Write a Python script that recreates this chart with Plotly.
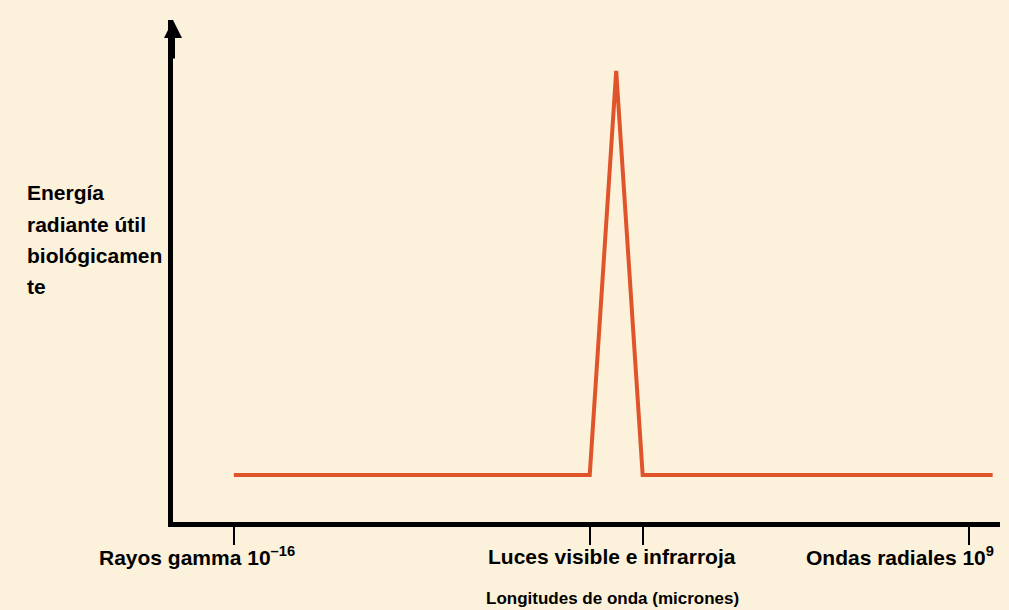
import plotly.graph_objects as go

# Data (x in log10 of wavelength, microns; y in relative useful energy)
line_x = [-16, -3.9, -3.0, -2.1, 9.8]
line_y = [1, 1, 9.6, 1, 1]
tick_vals = [-16, -3.9, -2.1, 9]
tick_labels = ["Rayos gamma 10<sup>–16</sup>", "Luces visible e infrarroja", "Ondas radiales 10<sup>9</sup>"]
label_x = [-17.26, -3.13, 6.65]
y_title_lines = ["Energía", "radiante útil", "biológicamen", "te"]
x_title = "Longitudes de onda (micrones)"

BG = "#FCF1DB"
FONT = "Liberation Sans, Arial, sans-serif"

fig = go.Figure()
fig.add_trace(go.Scatter(x=line_x, y=line_y, mode="lines",
                         line=dict(color="#E0542B", width=4), hoverinfo="skip"))

XR = [-18.07, 10.05]
YR = [0, 10.68]
PX_PER_Y = 47.0  # pixels per y unit (plot height 502 / 10.68)

fig.update_layout(
    width=1009, height=610,
    paper_bgcolor=BG, plot_bgcolor=BG,
    margin=dict(l=173, r=9, t=20, b=88),
    showlegend=False,
    xaxis=dict(range=XR, showgrid=False, zeroline=False, showline=True,
               linecolor="black", linewidth=5, tickvals=tick_vals,
               showticklabels=False, ticks="outside", ticklen=18,
               tickwidth=2, tickcolor="black", fixedrange=True),
    yaxis=dict(range=YR, showgrid=False, zeroline=False, showline=True,
               linecolor="black", linewidth=5, showticklabels=False,
               ticks="", fixedrange=True),
)

for txt, lx in zip(tick_labels, label_x):
    fig.add_annotation(x=lx, y=0, xref="x", yref="y", yshift=-34,
                       text="<b>" + txt + "</b>", showarrow=False,
                       font=dict(family=FONT, size=21, color="black"))

fig.add_annotation(x=-3.11, y=0, xref="x", yref="y", yshift=-76,
                   text="<b>" + x_title + "</b>", showarrow=False,
                   font=dict(family=FONT, size=17, color="black"))

for i, ln in enumerate(y_title_lines):
    py = 193 + 31.3 * i
    fig.add_annotation(x=XR[0], xref="x", xshift=-148, xanchor="left",
                       y=(522 - py) / PX_PER_Y, yref="y", yanchor="middle",
                       text="<b>" + ln + "</b>", showarrow=False,
                       font=dict(family=FONT, size=21, color="black"))

# arrow at top of y axis
fig.add_annotation(x=XR[0], y=YR[1], xref="x", yref="y", text="",
                   showarrow=True, arrowhead=2, arrowsize=0.9, arrowwidth=4,
                   arrowcolor="black", ax=0, ay=40, standoff=0)

fig.write_html("out.html",
               config={"displayModeBar": False},
               post_script="document.body.style.margin='0';"
                           "document.body.style.background='" + BG + "';")
